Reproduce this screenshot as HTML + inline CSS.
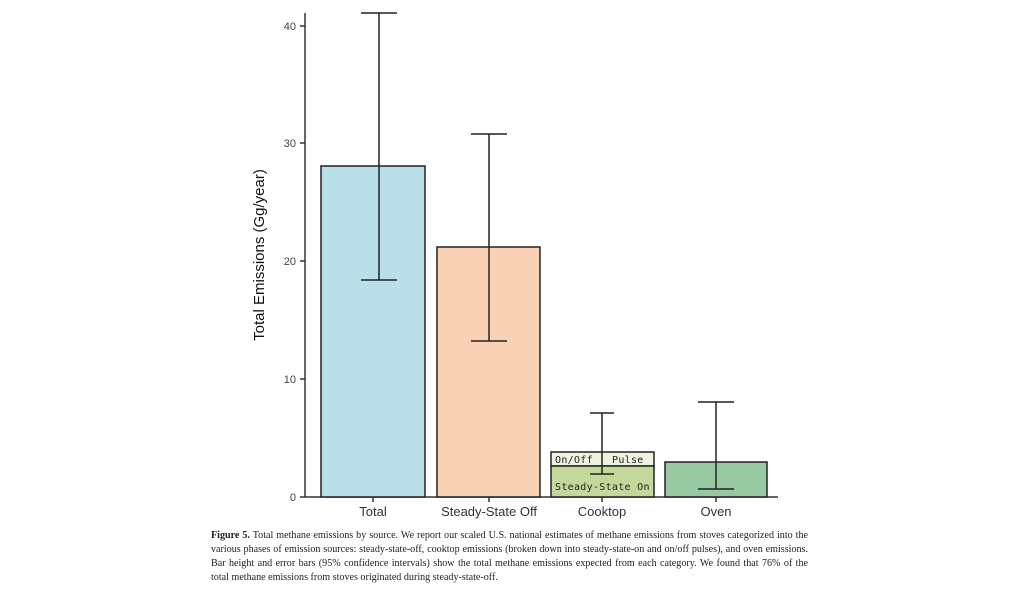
<!DOCTYPE html>
<html><head><style>
body{margin:0;width:1024px;height:594px;background:#fff;position:relative;overflow:hidden}
.cap{position:absolute;left:211px;width:597px;font-family:"Liberation Serif",serif;font-size:10.1px;color:#222;white-space:nowrap;line-height:14px;height:14px;overflow:hidden}
.j{text-align:justify;text-align-last:justify;white-space:normal}
</style></head><body>
<svg width="1024" height="594" style="position:absolute;left:0;top:0" font-family="Liberation Sans, sans-serif">
<g stroke="#333" stroke-width="1.5">
<line x1="305" y1="13" x2="305" y2="497"/>
<line x1="305" y1="497" x2="778" y2="497"/>
<line x1="300" y1="497" x2="305" y2="497"/>
<line x1="300" y1="379" x2="305" y2="379"/>
<line x1="300" y1="261" x2="305" y2="261"/>
<line x1="300" y1="143" x2="305" y2="143"/>
<line x1="300" y1="26" x2="305" y2="26"/>
<line x1="373" y1="497" x2="373" y2="502"/>
<line x1="489" y1="497" x2="489" y2="502"/>
<line x1="602" y1="497" x2="602" y2="502"/>
<line x1="716" y1="497" x2="716" y2="502"/>
</g>
<g font-size="11" fill="#444" text-anchor="end">
<text x="296" y="501">0</text><text x="296" y="383">10</text><text x="296" y="265">20</text><text x="296" y="147">30</text><text x="296" y="30">40</text>
</g>
<text transform="translate(264,255) rotate(-90)" font-size="15" fill="#111" text-anchor="middle">Total Emissions (Gg/year)</text>
<g stroke="#222" stroke-width="1.5">
<rect x="321" y="166" width="104" height="331" fill="#b9dfe9"/>
<rect x="437" y="247" width="103" height="250" fill="#f9d2b6"/>
<rect x="551" y="452" width="103" height="14" fill="#eef3df"/>
<rect x="551" y="466" width="103" height="31" fill="#c5d89b"/>
<rect x="665" y="462" width="102" height="35" fill="#96c8a1"/>
<line x1="379" y1="13" x2="379" y2="280"/><line x1="361" y1="13" x2="397" y2="13"/><line x1="361" y1="280" x2="397" y2="280"/>
<line x1="489" y1="134" x2="489" y2="341"/><line x1="471" y1="134" x2="507" y2="134"/><line x1="471" y1="341" x2="507" y2="341"/>
<line x1="602" y1="413" x2="602" y2="474"/><line x1="590" y1="413" x2="614" y2="413"/><line x1="590" y1="474" x2="614" y2="474"/>
<line x1="716" y1="402" x2="716" y2="489"/><line x1="698" y1="402" x2="734" y2="402"/><line x1="698" y1="489" x2="734" y2="489"/>
</g>
<g font-family="DejaVu Sans Mono, monospace" font-size="10" fill="#222" letter-spacing="0.3">
<text x="555" y="463">On/Off</text><text x="612" y="463">Pulse</text>
<text x="555" y="490">Steady-State On</text>
</g>
<g font-size="13" fill="#333" text-anchor="middle">
<text x="373" y="516">Total</text><text x="489" y="516">Steady-State Off</text><text x="602" y="516">Cooktop</text><text x="716" y="516">Oven</text>
</g>
</svg>
<div class="cap j" style="top:529px"><b>Figure 5.</b> Total methane emissions by source. We report our scaled U.S. national estimates of methane emissions from stoves categorized into the</div>
<div class="cap j" style="top:543px">various phases of emission sources: steady-state-off, cooktop emissions (broken down into steady-state-on and on/off pulses), and oven emissions.</div>
<div class="cap j" style="top:557px">Bar height and error bars (95% confidence intervals) show the total methane emissions expected from each category. We found that 76% of the</div>
<div class="cap" style="top:571px">total methane emissions from stoves originated during steady-state-off.</div>
</body></html>
